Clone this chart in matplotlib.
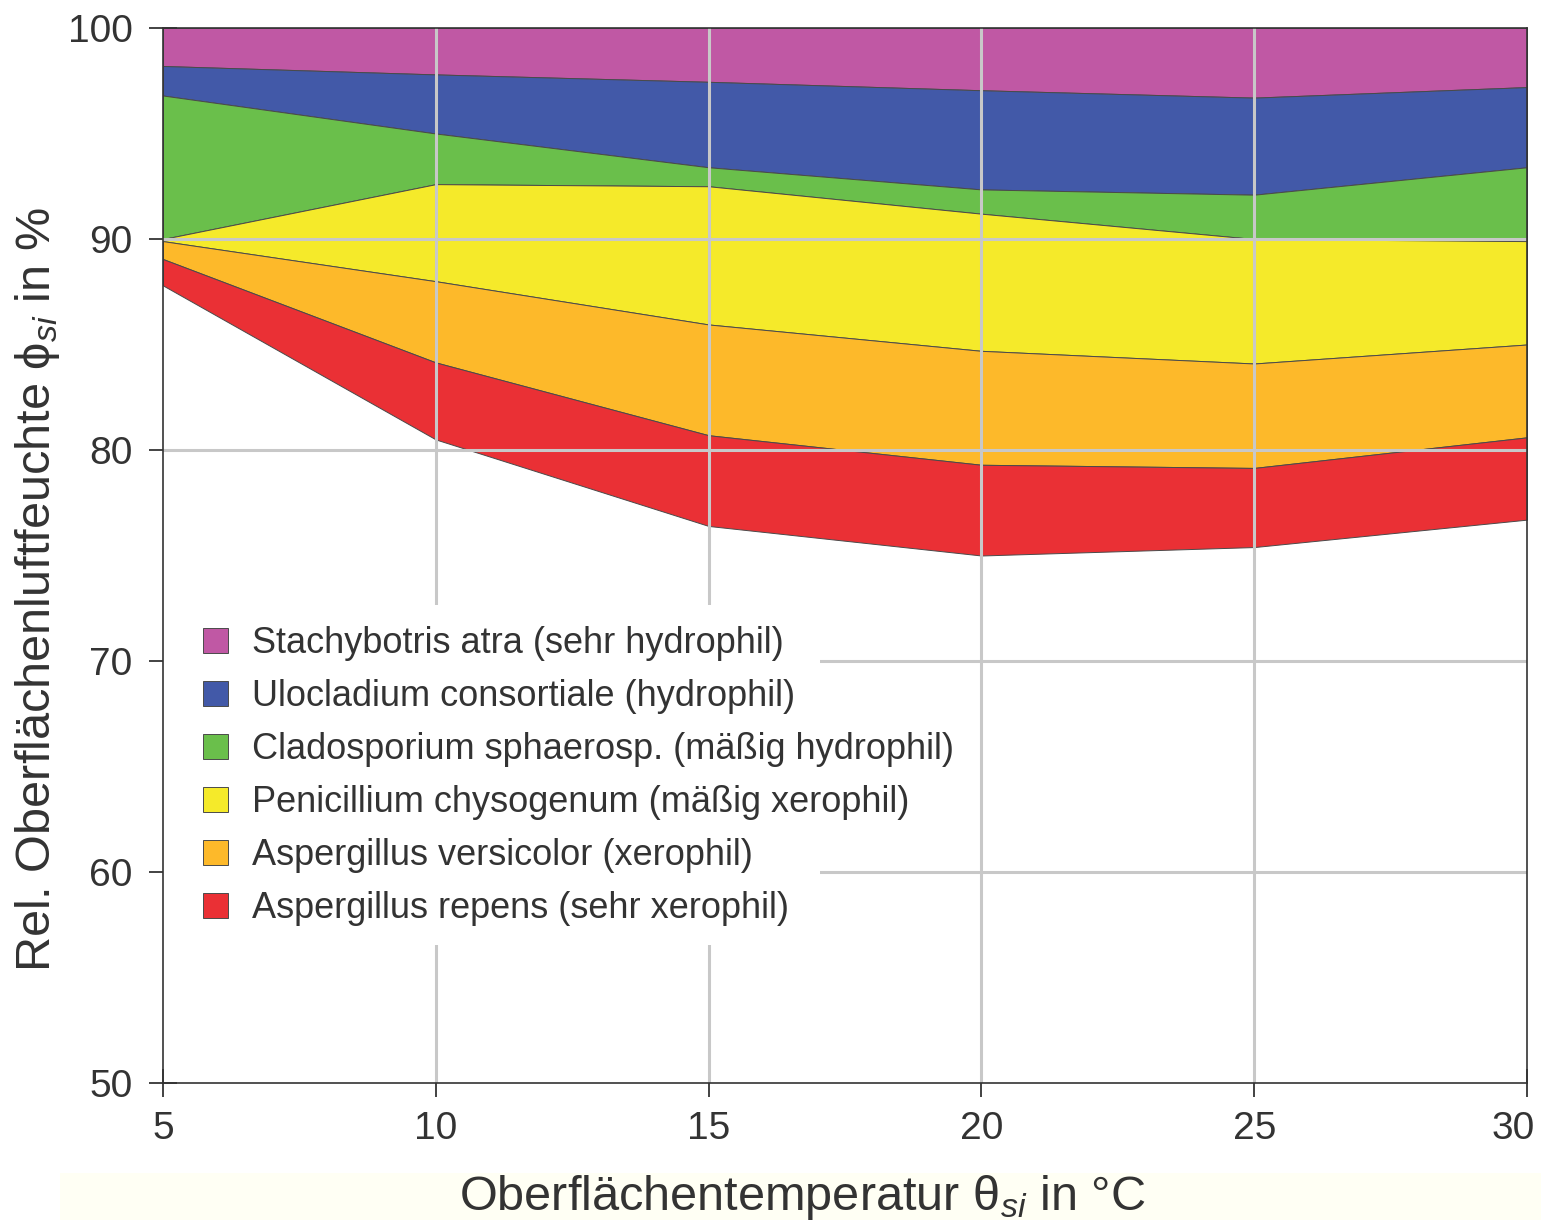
import matplotlib
matplotlib.use("Agg")
import matplotlib.pyplot as plt
from matplotlib.patches import Rectangle
from matplotlib.transforms import ScaledTranslation

plt.rcParams['font.family'] = ['Liberation Sans', 'DejaVu Sans']
plt.rcParams['mathtext.fontset'] = 'custom'
plt.rcParams['mathtext.rm'] = 'Liberation Sans'
plt.rcParams['mathtext.it'] = 'Liberation Sans:italic'

# surface temperature in degC
temp = [5, 10, 15, 20, 25, 30]

# lower limit (rel. humidity in %) of each mould's growth zone
stachy_low = [98.2, 97.8, 97.45, 97.05, 96.7, 97.2]
ulo_low = [96.8, 95.0, 93.4, 92.35, 92.1, 93.4]
clado_low = [90.0, 92.6, 92.5, 91.2, 90.0, 89.9]
peni_low = [89.9, 88.0, 85.95, 84.7, 84.1, 85.0]
aspv_low = [89.05, 84.15, 80.7, 79.3, 79.15, 80.6]
aspr_low = [87.8, 80.5, 76.4, 75.0, 75.4, 76.7]
top = [100] * len(temp)

labels = ["Stachybotris atra (sehr hydrophil)",
          "Ulocladium consortiale (hydrophil)",
          "Cladosporium sphaerosp. (mäßig hydrophil)",
          "Penicillium chysogenum (mäßig xerophil)",
          "Aspergillus versicolor (xerophil)",
          "Aspergillus repens (sehr xerophil)"]
colors = ["#c058a4", "#4259a8", "#6abf4b", "#f5ea2a", "#fdb92a", "#ea3035"]

uppers = [top, stachy_low, ulo_low, clado_low, peni_low, aspv_low]
lowers = [stachy_low, ulo_low, clado_low, peni_low, aspv_low, aspr_low]

fig = plt.figure(figsize=(15.41, 12.29), dpi=100)
ax = fig.add_axes([163/1541, 1 - 1083/1229, 1364/1541, 1055/1229])

for up, lo, c, lab in zip(uppers, lowers, colors, labels):
    ax.fill_between(temp, lo, up, facecolor=c, edgecolor="#4a4a4a",
                    linewidth=0.7, label=lab, zorder=1)

ax.set_xlim(5, 30)
ax.set_ylim(50, 100)
ax.set_xticks([5, 10, 15, 20, 25, 30])
ax.set_yticks([50, 60, 70, 80, 90, 100])
ax.tick_params(direction="inout", length=20, width=1.2, colors="#222222",
               labelsize=28, labelcolor="#333333")
ax.tick_params(axis="x", pad=10)
ax.tick_params(axis="y", pad=12)

# nudge the last x label so it stays inside the figure
last = ax.get_xticklabels()[-1]
last.set_transform(last.get_transform() + ScaledTranslation(-14/100, 0, fig.dpi_scale_trans))

# grid drawn over the colour bands
for gx in [10, 15, 20, 25]:
    ax.axvline(gx, color="#c8c8c8", linewidth=2.2, zorder=2)
for gy in [60, 70, 80, 90]:
    ax.axhline(gy, color="#c8c8c8", linewidth=2.2, zorder=2)

for sp in ax.spines.values():
    sp.set_color("#333333")
    sp.set_linewidth(1.2)
    sp.set_zorder(6)

# white block behind the legend
ax.add_patch(Rectangle((0, 0.1308), 0.4817, 0.3223, transform=ax.transAxes,
                       facecolor="white", edgecolor="none", zorder=4))

leg = ax.legend(loc="upper left", bbox_to_anchor=(0.0293, 0.4332), fontsize=26,
                frameon=False, handlelength=0.7, handleheight=0.7,
                handletextpad=0.65, labelspacing=0.5, borderpad=0,
                borderaxespad=0)
for t in leg.get_texts():
    t.set_color("#333333")
leg.set_zorder(5)

# pale strip behind the x-axis title
fig.patches.append(Rectangle((60/1541, 1 - 1220/1229), 1 - 60/1541, 47/1229,
                             transform=fig.transFigure, facecolor="#fffff4",
                             edgecolor="none", zorder=0))

fig.text(802/1541, 1 - 1197/1229, r"Oberflächentemperatur θ$_{si}$ in °C",
         ha="center", va="center", fontsize=35, color="#333333")
fig.text(38/1541, 1 - 590/1229, r"Rel. Oberflächenluftfeuchte ϕ$_{si}$ in %",
         ha="center", va="center", rotation=90, fontsize=35, color="#333333")

fig.savefig("out.png", dpi=100)
